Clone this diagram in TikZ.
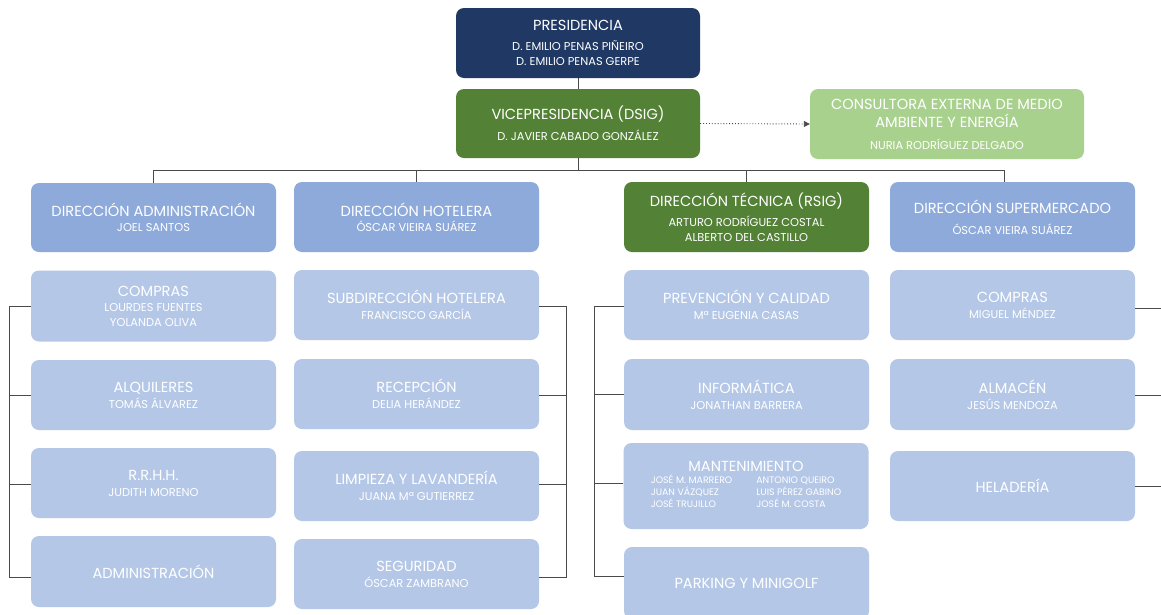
\documentclass[tikz,border=0pt]{standalone}
\usepackage{fontspec}
\setmainfont{Poppins}
\usetikzlibrary{arrows.meta}
\definecolor{navy}{HTML}{1F3864}
\definecolor{dgreen}{HTML}{538135}
\definecolor{lgreen}{HTML}{A9D18E}
\definecolor{mblue}{HTML}{8EAADB}
\definecolor{lblue}{HTML}{B4C7E7}
\definecolor{lnc}{HTML}{4A4A4A}
\newcommand\Ttl{\fontsize{14.6}{17}\selectfont}
\newcommand\Nme{\fontsize{11.4}{15}\selectfont}
\newcommand\Sml{\fontsize{9.4}{11.5}\selectfont}
\tikzset{
  box/.style={rounded corners=8pt, text=white, align=center, inner sep=2pt,
    minimum width=245pt, minimum height=70pt, font=\Nme},
  conn/.style={draw=lnc, line width=0.9pt},
}
\begin{document}
\begin{tikzpicture}[x=1pt,y=-1pt]
\fill[white] (0,0) rectangle (1161,614);
\useasboundingbox (0,0) rectangle (1161,614);

% top
\node[box, fill=navy, minimum width=244pt] (pres) at (578,43)
  {{\Ttl PRESIDENCIA}\\[5pt]D. EMILIO PENAS PIÑEIRO\\D. EMILIO PENAS GERPE};
\node[box, fill=dgreen, minimum width=244pt, minimum height=69pt] (vice) at (578,123.5)
  {{\Ttl VICEPRESIDENCIA (DSIG)}\\[6pt]D. JAVIER CABADO GONZÁLEZ};
\node[box, fill=lgreen, minimum width=274pt] (cons) at (947,124)
  {{\Ttl CONSULTORA EXTERNA DE MEDIO}\\[3pt]{\Ttl AMBIENTE Y ENERGÍA}\\[7pt]NURIA RODRÍGUEZ DELGADO};

% directors
\node[box, fill=mblue, minimum height=69pt] (da) at (153.5,217.5)
  {{\Ttl DIRECCIÓN ADMINISTRACIÓN}\\JOEL SANTOS};
\node[box, fill=mblue] (dh) at (416.5,217)
  {{\Ttl DIRECCIÓN HOTELERA}\\ÓSCAR VIEIRA SUÁREZ};
\node[box, fill=dgreen] (dt) at (746.5,217)
  {{\Ttl DIRECCIÓN TÉCNICA (RSIG)}\\[5pt]ARTURO RODRÍGUEZ COSTAL\\ALBERTO DEL CASTILLO};
\node[box, fill=mblue] (ds) at (1012.5,217)
  {{\Ttl DIRECCIÓN SUPERMERCADO}\\[6pt]ÓSCAR VIEIRA SUÁREZ};

% column 1
\node[box, fill=lblue, minimum height=71pt] (c1a) at (153.5,306)
  {{\Ttl COMPRAS}\\LOURDES FUENTES\\YOLANDA OLIVA};
\node[box, fill=lblue] (c1b) at (153.5,395)
  {{\Ttl ALQUILERES}\\[1pt]TOMÁS ÁLVAREZ};
\node[box, fill=lblue] (c1c) at (153.5,483)
  {{\Ttl R.R.H.H.}\\[1pt]JUDITH MORENO};
\node[box, fill=lblue, minimum height=71pt] (c1d) at (153.5,571.5)
  {{\Ttl ADMINISTRACIÓN}};

% column 2
\node[box, fill=lblue] (c2a) at (416.5,305)
  {{\Ttl SUBDIRECCIÓN HOTELERA}\\[1pt]FRANCISCO GARCÍA};
\node[box, fill=lblue] (c2b) at (416.5,394)
  {{\Ttl RECEPCIÓN}\\[1pt]DELIA HERÁNDEZ};
\node[box, fill=lblue] (c2c) at (416.5,486)
  {{\Ttl LIMPIEZA Y LAVANDERÍA}\\[1pt]JUANA Mª GUTIERREZ};
\node[box, fill=lblue] (c2d) at (416.5,574)
  {{\Ttl SEGURIDAD}\\[1pt]ÓSCAR ZAMBRANO};

% column 3
\node[box, fill=lblue] (c3a) at (746.5,305)
  {{\Ttl PREVENCIÓN Y CALIDAD}\\[1pt]Mª EUGENIA CASAS};
\node[box, fill=lblue, minimum height=71pt] (c3b) at (746.5,394.5)
  {{\Ttl INFORMÁTICA}\\[1pt]JONATHAN BARRERA};
\node[box, fill=lblue, minimum height=86pt] (c3c) at (746,486)
  {{\Ttl MANTENIMIENTO}\\[-3pt]{\Sml\renewcommand\arraystretch{1}\begin{tabular}[t]{@{}l@{\hspace{24pt}}l@{}}
  JOSÉ M. MARRERO & ANTONIO QUEIRO\\
  JUAN VÁZQUEZ & LUIS PÉREZ GABINO\\
  JOSÉ TRUJILLO & JOSÉ M. COSTA\end{tabular}}};
\node[box, fill=lblue, minimum height=72pt] (c3d) at (746.5,583)
  {{\Ttl PARKING Y MINIGOLF}};

% column 4
\node[box, fill=lblue] (c4a) at (1012.5,305)
  {{\Ttl COMPRAS}\\[1pt]MIGUEL MÉNDEZ};
\node[box, fill=lblue, minimum height=71pt] (c4b) at (1012.5,394.5)
  {{\Ttl ALMACÉN}\\[1pt]JESÚS MENDOZA};
\node[box, fill=lblue] (c4c) at (1012.5,486)
  {{\Ttl HELADERÍA}};

% top connectors
\draw[conn] (pres.south) -- (vice.north);
\draw[lnc, line width=0.9pt, dotted, -{Triangle[length=6pt,width=6pt]}] (vice.east) -- (cons.west);
\coordinate (bus) at (578,170);
\draw[conn] (vice.south) -- (bus);
\draw[conn] (da.north) |- (bus);
\draw[conn] (dh.north) |- (bus);
\draw[conn] (dt.north) |- (bus);
\draw[conn] ([xshift=-8.5pt]ds.north) |- (bus);

% connection points
\coordinate (p1a) at (c1a.west);
\coordinate (p1b) at (c1b.west);
\coordinate (p1c) at ([yshift=-1pt]c1c.west);
\coordinate (p1d) at ([yshift=-5.5pt]c1d.west);
\coordinate (p2a) at ([yshift=-1pt]c2a.east);
\coordinate (p2b) at ([yshift=-1pt]c2b.east);
\coordinate (p2c) at ([yshift=2pt]c2c.east);
\coordinate (p2d) at ([yshift=-3pt]c2d.east);
\coordinate (p3a) at ([yshift=-1pt]c3a.west);
\coordinate (p3b) at (c3b.west);
\coordinate (p3c) at ([yshift=3pt]c3c.west);
\coordinate (p3d) at ([yshift=7pt]c3d.west);
\coordinate (p4a) at ([yshift=-3pt]c4a.east);
\coordinate (p4b) at ([yshift=-1pt]c4b.east);
\coordinate (p4c) at (c4c.east);

% brackets
\coordinate (b1) at (9,0);
\draw[conn] (p1a) -| (b1 |- p1d) -- (p1d);
\draw[conn] (p1b) -- (b1 |- p1b);
\draw[conn] (p1c) -- (b1 |- p1c);

\coordinate (b2) at (566,0);
\draw[conn] (p2a) -| (b2 |- p2d) -- (p2d);
\draw[conn] (p2b) -- (b2 |- p2b);
\draw[conn] (p2c) -- (b2 |- p2c);

\coordinate (b3) at (594,0);
\draw[conn] (p3a) -| (b3 |- p3d) -- (p3d);
\draw[conn] (p3b) -- (b3 |- p3b);
\draw[conn] (p3c) -- (b3 |- p3c);

\coordinate (b4) at (1161,0);
\draw[conn] (p4a) -- (b4 |- p4a);
\draw[conn] (p4b) -- (b4 |- p4b);
\draw[conn] (p4c) -- (b4 |- p4c);
\end{tikzpicture}
\end{document}
